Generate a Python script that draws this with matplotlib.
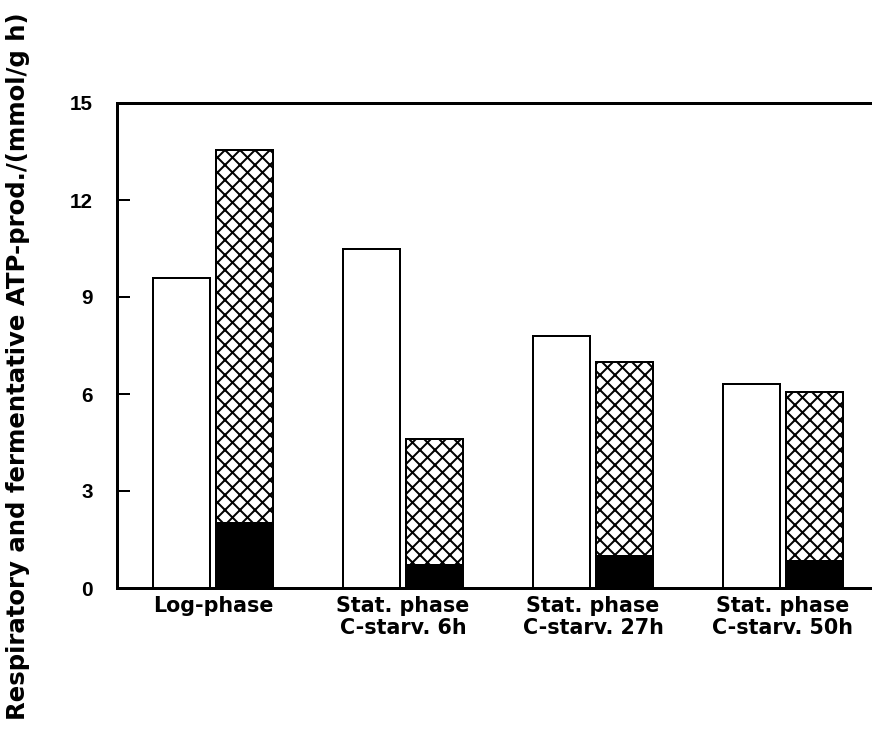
import matplotlib
matplotlib.use('Agg')
import matplotlib.pyplot as plt
import numpy as np

# ATP production, mmol/(g h)
conditions = ['Log-phase', 'Stat. phase\nC-starv. 6h', 'Stat. phase\nC-starv. 27h', 'Stat. phase\nC-starv. 50h']
respiratory = [9.6, 10.5, 7.8, 6.3]
fermentative = [13.55, 4.6, 7.0, 6.05]
fermentative_black = [2.0, 0.7, 1.0, 0.85]
yticks = [0, 3, 6, 9, 12, 15]

plt.rcParams['font.family'] = 'Liberation Sans'
plt.rcParams['font.weight'] = 'bold'
plt.rcParams['hatch.linewidth'] = 1.6

fig = plt.figure(figsize=(9.7, 730 / 90), dpi=90)
ax = fig.add_axes([117 / 873, 1 - 588 / 730, 1 - 117 / 873, (588 - 103) / 730])

x = np.arange(len(conditions))
off = 0.168
w = 0.30

ax.bar(x - off, respiratory, w, color='white', edgecolor='black', linewidth=1.6, zorder=2)
ax.bar(x + off, fermentative, w, color='white', edgecolor='black', hatch='xx', linewidth=1.6, zorder=2)
ax.bar(x + off, fermentative_black, w, color='black', edgecolor='black', linewidth=1.6, zorder=3)

ax.set_xlim(-0.505, (873 - 213) / 190)
ax.set_ylim(0, 15)
ax.set_yticks(yticks)
ax.set_xticks(x)
ax.set_xticklabels(conditions, fontsize=16.5, fontweight='bold', family='DejaVu Sans',
                   linespacing=1.15)
ax.tick_params(axis='x', length=0, pad=6)
ax.tick_params(axis='y', direction='in', length=10, width=1.6, labelsize=16.5, pad=19)
for lab in ax.get_yticklabels():
    lab.set_fontweight('bold')

ax.spines['right'].set_visible(False)
for s in ['left', 'bottom', 'top']:
    ax.spines[s].set_linewidth(2.4)

fig.text(18 / 873, 1 - 366 / 730, 'Respiratory and fermentative ATP-prod./(mmol/g h)',
         rotation=90, ha='center', va='center', fontsize=19.5, fontweight='bold',
         family='DejaVu Sans')

fig.savefig('out.png', dpi=90)
